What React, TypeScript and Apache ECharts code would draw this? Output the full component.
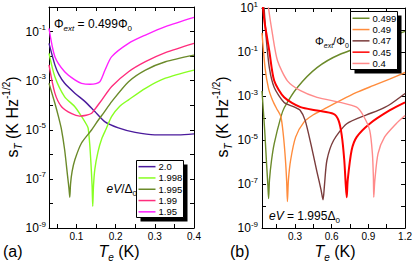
import React, { useEffect, useRef } from 'react';
import * as echarts from 'echarts';

const FONT = "'Liberation Sans', Arial, Helvetica, sans-serif";
type Pt = [number, number];

// ---------- Panel (a): Phi_ext = 0.499 Phi_0, curves labelled by eV/Delta_0 ----------
// [T_e (K), s_T (K Hz^-1/2)]
const namesA = ['2.0', '1.998', '1.995', '1.99', '1.95'];
const colorsA = ['#4a1a9c', '#88ff22', '#6b8a2a', '#ff2d7d', '#ff20ff'];

const a_2_0: Pt[] = [
  [0.03, 3.3e-2], [0.045, 4.4e-3], [0.055, 1.8e-3], [0.07, 7.8e-4], [0.096, 3.1e-4],
  [0.122, 1.4e-4], [0.147, 5.5e-5], [0.173, 2.1e-5], [0.207, 1.2e-5], [0.25, 7.8e-6],
  [0.3, 6.2e-6], [0.36, 6.2e-6], [0.4, 6.8e-6],
];
const a_1_998: Pt[] = [
  [0.03, 1.3e-2], [0.045, 1.45e-3], [0.07, 2.2e-4], [0.096, 8.7e-5], [0.113, 3.5e-5],
  [0.126, 1.6e-5], [0.13, 1.15e-5], [0.134, 2.5e-6], [0.1375, 3.2e-7], [0.14, 5e-8],
  [0.1416, 7.6e-9], [0.1435, 5e-8], [0.147, 2.5e-7], [0.155, 1.26e-6], [0.165, 4.5e-6],
  [0.176, 1.1e-5], [0.19, 3.5e-5], [0.21, 8.9e-5], [0.233, 1.66e-4], [0.276, 4.9e-4],
  [0.327, 1.26e-3], [0.4, 2.7e-3],
];
const a_1_995: Pt[] = [
  [0.03, 7.8e-4], [0.045, 1.2e-4], [0.054, 3.5e-5], [0.062, 1.0e-5], [0.07, 1.5e-6],
  [0.0775, 1.26e-7], [0.081, 4e-8], [0.083, 1.8e-8], [0.085, 6.3e-8], [0.089, 2.0e-7],
  [0.096, 6.0e-7], [0.113, 2.9e-6], [0.139, 1.0e-5], [0.156, 2.5e-5], [0.17, 5.0e-5],
  [0.19, 1.4e-4], [0.233, 9.1e-4], [0.276, 2.7e-3], [0.327, 5.9e-3], [0.4, 1.1e-2],
];
const a_1_99: Pt[] = [
  [0.03, 4.4e-3], [0.045, 3.1e-4], [0.062, 8.7e-5], [0.088, 4.5e-5], [0.108, 3.6e-5],
  [0.125, 3.9e-5], [0.139, 4.7e-5], [0.15, 7.9e-5], [0.165, 1.66e-4], [0.19, 5.8e-4],
  [0.233, 2.3e-3], [0.276, 5.9e-3], [0.327, 1.38e-2], [0.4, 3.3e-2],
];
const a_1_95: Pt[] = [
  [0.03, 1.35e-1], [0.045, 9.5e-3], [0.07, 2.3e-3], [0.096, 1.07e-3], [0.113, 7.8e-4],
  [0.135, 7.1e-4], [0.15, 7.6e-4], [0.16, 9.1e-4], [0.173, 2.7e-3], [0.19, 9.5e-3],
  [0.233, 3.3e-2], [0.276, 7.2e-2], [0.327, 1.6e-1], [0.4, 3.8e-1],
];
const dataA = [a_2_0, a_1_998, a_1_995, a_1_99, a_1_95];

// ---------- Panel (b): eV = 1.995 Delta_0, curves labelled by Phi_ext/Phi_0 ----------
const namesB = ['0.499', '0.49', '0.47', '0.45', '0.4'];
const colorsB = ['#6b8a2a', '#ff8c3c', '#7a3c3c', '#ff0000', '#ff8a8a'];

const b_0_499: Pt[] = [
  [0.03, 1.7e-3], [0.052, 2.75e-5], [0.068, 7.2e-7], [0.078, 8.9e-8], [0.084, 2.2e-8],
  [0.091, 1.5e-7], [0.108, 1.2e-6], [0.13, 6.9e-6], [0.184, 1.1e-4], [0.213, 3.0e-4],
  [0.319, 2.45e-3], [0.48, 1.95e-2], [0.669, 7.9e-2], [0.981, 3.2e-1], [1.2, 8.7e-1],
];
const b_0_49: Pt[] = [
  [0.03, 7.4e-1], [0.056, 1.7e-2], [0.084, 2.1e-3], [0.117, 6.2e-4], [0.149, 2.7e-4],
  [0.184, 1.17e-4], [0.205, 1.6e-5], [0.222, 1.2e-6], [0.232, 1.23e-7], [0.238, 1.6e-8],
  [0.246, 1.5e-7], [0.264, 1.2e-6], [0.305, 1.35e-5], [0.373, 6.5e-5], [0.45, 1.4e-4],
  [0.534, 2.5e-4], [0.669, 6.2e-4], [0.804, 1.45e-3], [0.939, 2.95e-3], [1.073, 5.9e-3],
  [1.2, 1.17e-2],
];
const b_0_47: Pt[] = [
  [0.03, 1e2], [0.045, 1.5e1], [0.062, 6.3e-1], [0.09, 1.95e-2], [0.13, 2.45e-3],
  [0.211, 5.1e-4], [0.292, 3.2e-4], [0.343, 2.2e-4], [0.383, 7.8e-5], [0.432, 5.8e-6],
  [0.48, 3.5e-7], [0.513, 5.4e-8], [0.529, 1.9e-8], [0.541, 8.9e-8], [0.561, 1.2e-6],
  [0.615, 9.5e-6], [0.723, 5.5e-5], [0.885, 1.4e-4], [0.98, 2.2e-4], [1.073, 4.0e-4],
  [1.2, 1.3e-3],
];
const b_0_45: Pt[] = [
  [0.03, 3e1], [0.05, 2.5], [0.09, 1.1e-1], [0.13, 4.9e-3], [0.211, 8.7e-4],
  [0.345, 3.1e-4], [0.48, 2.2e-4], [0.615, 1.55e-4], [0.656, 7.8e-5], [0.682, 1.66e-5],
  [0.703, 1.2e-6], [0.715, 9.1e-8], [0.723, 2.5e-8], [0.731, 1.5e-7], [0.763, 3.4e-6],
  [0.804, 1.35e-5], [0.911, 5.5e-5], [1.073, 2.2e-4], [1.2, 5.1e-4],
];
const b_0_4: Pt[] = [
  [0.06, 2e2], [0.076, 2e1], [0.116, 6.3e-1], [0.157, 4e-2], [0.238, 4.9e-3],
  [0.345, 1.74e-3], [0.48, 8.7e-4], [0.669, 5.1e-4], [0.804, 3.1e-4], [0.858, 1.3e-4],
  [0.911, 2.75e-5], [0.933, 2.4e-6], [0.941, 2.1e-7], [0.944, 2.5e-8], [0.953, 1.5e-7],
  [0.979, 2.4e-6], [1.032, 1.35e-5], [1.127, 5.5e-5], [1.2, 1.3e-4],
];
const dataB = [b_0_499, b_0_49, b_0_47, b_0_45, b_0_4];
const widthsB = [1.4, 1.4, 1.4, 2, 1.4];

// ---------- axes ----------
const xRangeA = [0.03, 0.4];
const xTicksA = [0.05, 0.1, 0.15, 0.2, 0.25, 0.3, 0.35, 0.4];
const xLabelsA = [0.1, 0.2, 0.3, 0.4];
const xRangeB = [0.03, 1.2];
const xTicksB = [0.15, 0.3, 0.45, 0.6, 0.75, 0.9, 1.05, 1.2];
const xLabelsB = [0.3, 0.6, 0.9, 1.2];
const yDecadesA = [-9, 0]; // log10 range of s_T
const yDecadesB = [-9, 1];

const black = '#000';

function xAxes(gridIndex: number, range: number[], ticks: number[], labels: number[]) {
  const common = {
    type: 'value', gridIndex, min: range[0], max: range[1],
    axisLine: { show: true, onZero: false, lineStyle: { color: black, width: 1 } },
    axisTick: { show: true, inside: true, length: 4, customValues: ticks, lineStyle: { color: black } },
    splitLine: { show: false },
  };
  return [
    {
      ...common, position: 'bottom',
      axisLabel: {
        show: true, customValues: labels, margin: 3, fontSize: 10, color: black, fontFamily: FONT,
        formatter: (v: number) => String(v),
      },
    },
    { ...common, position: 'top', axisLabel: { show: false } },
  ];
}

function yAxes(gridIndex: number, dec: number[], margin: number) {
  const common = {
    type: 'value', gridIndex, min: dec[0], max: dec[1], interval: 1,
    axisLine: { show: true, onZero: false, lineStyle: { color: black, width: 1 } },
    axisTick: { show: true, inside: true, length: 4, lineStyle: { color: black } },
    splitLine: { show: false },
  };
  return [
    {
      ...common, position: 'left',
      axisLabel: {
        show: true, margin, align: 'right', showMinLabel: true, showMaxLabel: true,
        formatter: (v: number) => (Math.abs(v % 2) === 1 ? `{b|10}{s|${v}}` : ''),
        rich: {
          b: { fontSize: 12, lineHeight: 16, verticalAlign: 'middle', fontFamily: FONT, color: black },
          s: { fontSize: 8, lineHeight: 8, verticalAlign: 'top', fontFamily: FONT, color: black },
        },
      },
    },
    { ...common, position: 'right', axisLabel: { show: false } },
  ];
}

const richBase = {
  n: { fontSize: 16, lineHeight: 22, verticalAlign: 'middle', fontFamily: FONT, fill: black },
  i: { fontSize: 16, lineHeight: 22, verticalAlign: 'middle', fontFamily: FONT, fontStyle: 'italic', fill: black },
  sub: { fontSize: 10, lineHeight: 10, verticalAlign: 'bottom', fontFamily: FONT, fontStyle: 'italic', fill: black },
  sup: { fontSize: 10, lineHeight: 10, verticalAlign: 'top', fontFamily: FONT, fill: black },
};
const richSmall = {
  n: { fontSize: 12, lineHeight: 17, verticalAlign: 'middle', fontFamily: FONT, fill: black },
  i: { fontSize: 12, lineHeight: 17, verticalAlign: 'middle', fontFamily: FONT, fontStyle: 'italic', fill: black },
  sub: { fontSize: 8, lineHeight: 8, verticalAlign: 'bottom', fontFamily: FONT, fontStyle: 'italic', fill: black },
  subn: { fontSize: 8, lineHeight: 8, verticalAlign: 'bottom', fontFamily: FONT, fill: black },
};
const richTiny = {
  n: { fontSize: 11, lineHeight: 16, verticalAlign: 'middle', fontFamily: FONT, fill: black },
  sub: { fontSize: 7, lineHeight: 7, verticalAlign: 'bottom', fontFamily: FONT, fontStyle: 'italic', fill: black },
  subn: { fontSize: 7, lineHeight: 7, verticalAlign: 'bottom', fontFamily: FONT, fill: black },
};

function txt(text: string, x: number, y: number, rich: any, extra: any = {}) {
  return {
    type: 'text', x, y, z: 30, ...extra,
    style: { text, rich, fill: black, textAlign: extra.align || 'left', textVerticalAlign: 'middle', fontFamily: FONT },
  };
}

function legendBox(x: number, y: number, w: number, h: number) {
  return [
    { type: 'rect', z: 10, shape: { x: x + 4, y: y + 4, width: w, height: h }, style: { fill: black } },
    { type: 'rect', z: 11, shape: { x, y, width: w, height: h }, style: { fill: '#fff', stroke: black, lineWidth: 1 } },
  ];
}

export default function App() {
  const ref = useRef<HTMLDivElement>(null);
  useEffect(() => {
    if (!ref.current) return;
    const chart = echarts.init(ref.current, null, { renderer: 'svg' });
    const series: any[] = [];
    dataA.forEach((d, k) => {
      series.push({
        type: 'line', name: namesA[k], xAxisIndex: 0, yAxisIndex: 0,
        data: d.map(([t, s]) => [t, Math.log10(s)]),
        symbol: 'none', smooth: 0.25, clip: true,
        lineStyle: { color: colorsA[k], width: 1.4 }, itemStyle: { color: colorsA[k] },
      });
    });
    dataB.forEach((d, k) => {
      series.push({
        type: 'line', name: namesB[k], xAxisIndex: 2, yAxisIndex: 2,
        data: d.map(([t, s]) => [t, Math.log10(s)]),
        symbol: 'none', smooth: 0.25, clip: true,
        lineStyle: { color: colorsB[k], width: widthsB[k] }, itemStyle: { color: colorsB[k] },
      });
    });
    const legendCommon = {
      orient: 'vertical', padding: 0, itemWidth: 17, itemHeight: 1.5, itemGap: 0, z: 20,
      icon: 'rect', selectedMode: false,
      textStyle: { fontSize: 9.5, lineHeight: 11.3, color: black, fontFamily: FONT, padding: [0, 0, 0, -2] },
    };
    chart.setOption({
      animation: false,
      backgroundColor: '#fff',
      textStyle: { fontFamily: FONT },
      grid: [
        { left: 49, top: 7, width: 145, height: 221, containLabel: false },
        { left: 262, top: 7, width: 145, height: 221, containLabel: false },
      ],
      xAxis: [...xAxes(0, xRangeA, xTicksA, xLabelsA), ...xAxes(1, xRangeB, xTicksB, xLabelsB)],
      yAxis: [...yAxes(0, yDecadesA, 3), ...yAxes(1, yDecadesB, 4)],
      legend: [
        { ...legendCommon, left: 138.5, top: 161, data: namesA },
        { ...legendCommon, left: 352.5, top: 12.6, data: namesB },
      ],
      series,
      graphic: [
        ...legendBox(136.5, 160.5, 47, 57),
        ...legendBox(350.5, 11.5, 47, 58),
        txt('{n|Φ}{sub|ext}{n| = 0.499Φ}{subn|0}', 54, 23.5, richSmall),
        txt('{i|eV}{n|/Δ}{subn|0}', 106.5, 189, richSmall),
        txt('{i|eV}{n| = 1.995Δ}{subn|0}', 269, 215.5, richSmall),
        txt('{n|Φ}{sub|ext}{n|/Φ}{subn|0}', 315, 41, richTiny),
        txt('{n|s}{sub|T}{n| (K Hz}{sup|-1/2}{n|)}', 12, 117, richBase, { rotation: Math.PI / 2, align: 'center' }),
        txt('{n|s}{sub|T}{n| (K Hz}{sup|-1/2}{n|)}', 222, 117, richBase, { rotation: Math.PI / 2, align: 'center' }),
        txt('{i|T}{sub|e}{n| (K)}', 119, 251, richBase, { align: 'center' }),
        txt('{i|T}{sub|e}{n| (K)}', 335, 251, richBase, { align: 'center' }),
        txt('{n|(a)}', 3, 251, richBase),
        txt('{n|(b)}', 230, 251, richBase),
      ],
    });
    return () => chart.dispose();
  }, []);
  return <div ref={ref} style={{ position: 'fixed', left: 0, top: 0, width: 415, height: 266 }} />;
}
